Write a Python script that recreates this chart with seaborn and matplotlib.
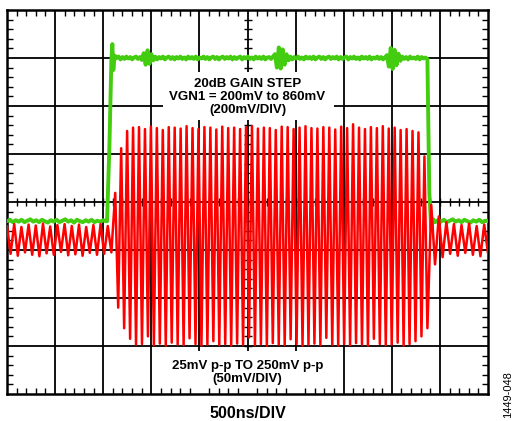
import numpy as np
import pandas as pd
import seaborn as sns
import matplotlib.pyplot as plt
from matplotlib.patches import Rectangle

# scope screen: 10 x 8 divisions, values in divisions
# red trace (signal), extrema read per cycle: before step, burst, after step
red_pre_top = [-0.50, -0.46, -0.52, -0.47, -0.49, -0.45, -0.51, -0.48, -0.46, -0.50,
               -0.47, -0.52, -0.48, -0.46, -0.50]
red_pre_bot = [-1.08, -1.12, -1.05, -1.10, -1.13, -1.07, -1.10, -1.04, -1.11, -1.09,
               -1.12, -1.06, -1.10, -1.08, -1.05]
red_big_top = [0.19, 1.12, 1.48, 1.55, 1.56, 1.52, 1.57, 1.54, 1.50, 1.56,
               1.55, 1.53, 1.58, 1.54, 1.52, 1.56, 1.55, 1.51, 1.57, 1.54,
               1.55, 1.52, 1.56, 1.58, 1.53, 1.55, 1.54, 1.50, 1.57, 1.56,
               1.52, 1.55, 1.58, 1.54, 1.53, 1.56, 1.55, 1.51, 1.57, 1.54,
               1.62, 1.55, 1.52, 1.56, 1.54, 1.58, 1.53, 1.55, 1.50, 1.52,
               1.48, 1.45, 0.95]
red_big_bot = [-2.20, -2.63, -2.85, -2.97, -2.96, -2.80, -2.98, -2.95, -2.99, -2.93,
               -2.97, -2.98, -2.84, -2.96, -2.99, -2.97, -2.90, -2.98, -2.96, -2.99,
               -2.95, -2.97, -2.82, -2.98, -2.96, -2.99, -2.94, -2.97, -2.98, -2.86,
               -2.96, -2.99, -2.97, -2.95, -2.98, -2.83, -2.97, -2.99, -2.96, -2.98,
               -2.94, -2.97, -2.99, -2.85, -2.96, -2.98, -2.97, -2.93, -2.99, -2.96,
               -2.90, -2.80, -2.63]
red_post_top = [-0.06, -0.30, -0.42, -0.46, -0.48, -0.45, -0.50, -0.47]
red_post_bot = [-1.30, -1.15, -1.08, -1.12, -1.06, -1.10, -1.13, -1.07]
red_spans = [(0.0, 2.17), (2.25, 8.74), (8.82, 10.0)]

# green trace (gain control step)
green_pre = [-0.40, -0.37, -0.42, -0.38, -0.41, -0.37, -0.42, -0.39, -0.36, -0.41,
             -0.38, -0.42, -0.37, -0.40, -0.43, -0.38, -0.41, -0.37, -0.42, -0.39,
             -0.36, -0.41, -0.38, -0.43, -0.37, -0.40, -0.42, -0.38, -0.41, -0.37,
             -0.42, -0.39, -0.41, -0.38, -0.40]
green_rise_t = [2.08, 2.13, 2.17, 2.19, 2.21, 2.24]
green_rise_v = [-0.40, 1.20, 2.95, 3.29, 2.75, 3.05]
green_top = [3.00, 3.03, 2.97, 3.02, 2.98, 3.03, 2.99, 3.02, 2.97, 3.01,
             3.03, 2.98, 3.02, 2.96, 3.10, 2.86, 3.16, 2.88, 3.08, 2.95,
             3.03, 2.97, 3.02, 2.99, 3.03, 2.97, 3.01, 3.03, 2.98, 3.02,
             2.97, 3.02, 2.99, 3.03, 2.98, 3.01, 2.97, 3.03, 2.99, 3.02,
             2.98, 3.03, 2.97, 3.01, 2.99, 3.03, 2.98, 3.02, 2.97, 3.01,
             3.03, 2.98, 3.02, 2.97, 3.01, 3.03, 2.98, 3.02, 2.99, 3.03,
             2.97, 3.02, 2.98, 3.01, 3.03, 2.97, 3.02, 2.99, 3.03, 2.98,
             3.01, 2.97, 3.03, 2.99, 3.02, 2.98, 3.03, 2.97, 3.01, 3.02,
             2.98, 3.03, 3.08, 2.80, 3.22, 2.78, 3.18, 2.86, 3.08, 2.95,
             3.03, 2.97, 3.02, 2.99, 3.03, 2.98, 3.01, 2.97, 3.03, 2.99,
             3.02, 2.98, 3.03, 2.97, 3.01, 3.03, 2.98, 3.02, 2.97, 3.01,
             3.03, 2.98, 3.02, 2.99, 3.03, 2.97, 3.02, 2.98, 3.01, 3.03,
             2.97, 3.02, 2.99, 3.03, 2.98, 3.01, 2.97, 3.03, 2.99, 3.02,
             2.98, 3.03, 2.97, 3.01, 2.99, 3.03, 2.98, 3.02, 2.97, 3.01,
             3.06, 2.82, 3.21, 2.77, 3.17, 2.85, 3.09, 2.94, 3.03, 2.98,
             3.02, 2.97, 3.03, 2.99, 3.01, 2.98, 3.03, 2.97, 3.02, 2.99,
             3.01]
green_fall_t = [8.74, 8.78, 8.82, 8.86]
green_fall_v = [2.98, 0.20, -0.55, -0.36]
green_post = [-0.42, -0.38, -0.41, -0.37, -0.42, -0.39, -0.36, -0.41, -0.38, -0.42,
              -0.37, -0.40, -0.43, -0.38, -0.41, -0.37, -0.42, -0.39, -0.40]
green_spans = [(0.0, 2.06), (2.28, 8.70), (8.90, 10.0)]

top_note = "20dB GAIN STEP\nVGN1 = 200mV to 860mV\n(200mV/DIV)"
bottom_note = "25mV p-p TO 250mV p-p\n(50mV/DIV)"
x_label = "500ns/DIV"
fig_id = "1449-048"

# build traces
red_parts = []
for (t0, t1), tops, bots in zip(red_spans, [red_pre_top, red_big_top, red_post_top],
                                [red_pre_bot, red_big_bot, red_post_bot]):
    v = np.column_stack([tops, bots]).ravel()
    red_parts.append(pd.DataFrame({"t": np.linspace(t0, t1, len(v)), "v": v}))
red = pd.concat(red_parts, ignore_index=True)

green = pd.concat([
    pd.DataFrame({"t": np.linspace(*green_spans[0], len(green_pre)), "v": green_pre}),
    pd.DataFrame({"t": green_rise_t, "v": green_rise_v}),
    pd.DataFrame({"t": np.linspace(*green_spans[1], len(green_top)), "v": green_top}),
    pd.DataFrame({"t": green_fall_t, "v": green_fall_v}),
    pd.DataFrame({"t": np.linspace(*green_spans[2], len(green_post)), "v": green_post}),
], ignore_index=True)

sns.set_style("white")
plt.rcParams["font.family"] = ["Liberation Sans", "DejaVu Sans"]
plt.rcParams["text.color"] = "black"

fig = plt.figure(figsize=(5.12, 4.21), dpi=100)
ax = fig.add_axes([7 / 512, 1 - 394 / 421, 481 / 512, 384 / 421])
ax.set_xlim(0, 10)
ax.set_ylim(-4, 4)

# grid
for gx in range(1, 10):
    ax.axvline(gx, color="black", lw=1.3, zorder=1)
for gy in range(-3, 4):
    ax.axhline(gy, color="black", lw=1.3, zorder=1)

# minor ticks on the centre lines
mx = np.arange(0.2, 10, 0.2)
my = np.arange(-3.8, 4, 0.2)
ax.plot(mx, np.zeros_like(mx), ls="none", marker="|", ms=6, mew=1.0, color="black", zorder=1.2)
ax.plot(np.full_like(my, 5.0), my, ls="none", marker="_", ms=6, mew=1.0, color="black", zorder=1.2)

# white boxes behind the notes
ax.add_patch(Rectangle((3.24, 1.71), 3.55, 1.0, fc="white", ec="none", zorder=2))
ax.add_patch(Rectangle((3.05, -4.0), 3.90, 0.90, fc="white", ec="none", zorder=2))

sns.lineplot(data=green, x="t", y="v", color="#44cc11", lw=2.8, estimator=None,
             sort=False, ax=ax, zorder=3)
sns.lineplot(data=red, x="t", y="v", color="#ff0000", lw=1.8, estimator=None,
             sort=False, ax=ax, zorder=4)

ax.text(5.0, 2.19, top_note, ha="center", va="center", fontsize=9.5, color="black",
        fontweight="bold", linespacing=1.12, zorder=5)
ax.text(5.0, -3.55, bottom_note, ha="center", va="center", fontsize=9.5, color="black",
        fontweight="bold", linespacing=1.12, zorder=5)

# frame and edge ticks
ax.set_axisbelow(False)
ax.set_xticks(range(0, 11))
ax.set_yticks(range(-4, 5))
ax.set_xticks(mx, minor=True)
ax.set_yticks(my, minor=True)
ax.tick_params(which="both", direction="in", top=True, right=True, bottom=True, left=True,
               labelbottom=False, labelleft=False, color="black")
ax.tick_params(which="major", length=0)
ax.tick_params(which="minor", length=4, width=1.0)
ax.set_xlabel("")
ax.set_ylabel("")
for s in ax.spines.values():
    s.set_visible(True)
    s.set_color("black")
    s.set_linewidth(1.8)

fig.text(248 / 512, 1 - 413 / 421, x_label, ha="center", va="center", color="black",
         fontsize=11.5, fontweight="bold")
fig.text(508 / 512, 1 - 395 / 421, fig_id, ha="center", va="center", color="black",
         fontsize=8, rotation=90)

fig.savefig("out.png", dpi=100)
